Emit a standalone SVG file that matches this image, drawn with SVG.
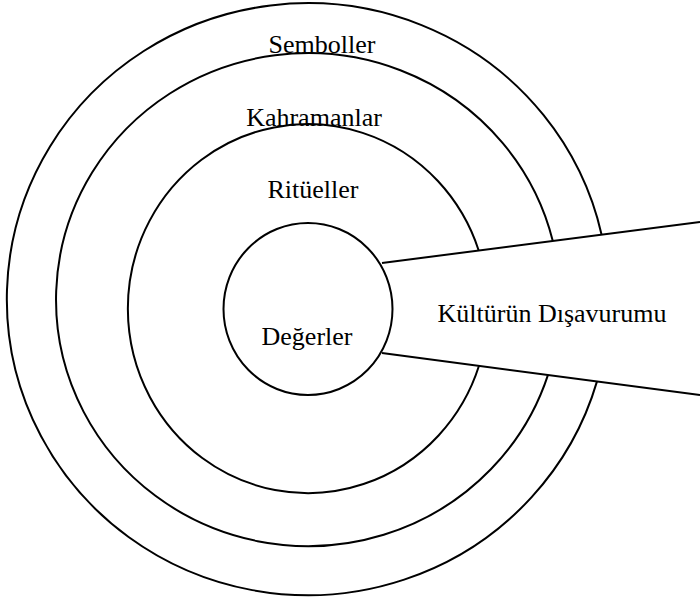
<svg xmlns="http://www.w3.org/2000/svg" width="700" height="601" viewBox="0 0 700 601">
  <style>
    .ring { fill: none; stroke: #000; stroke-width: 2; }
    .lbl { font-family: "Liberation Serif", "Times New Roman", serif; font-size: 26px; fill: #000; text-anchor: middle; }
  </style>
  <rect width="700" height="601" fill="#fff"/>
  <g id="semboller">
    <path class="ring" d="M 601.6 234.7 A 301 296 0 1 0 597 381.4"/>
    <text class="lbl" x="322" y="53">Semboller</text>
  </g>
  <g id="kahramanlar">
    <path class="ring" d="M 552.8 241 A 252 246.5 0 1 0 548 374.9"/>
    <text class="lbl" x="314" y="126">Kahramanlar</text>
  </g>
  <g id="ritueller">
    <path class="ring" d="M 478.7 250.5 A 180 184.5 0 1 0 479 365.8"/>
    <text class="lbl" x="313" y="198">Ritüeller</text>
  </g>
  <g id="degerler">
    <ellipse class="ring" cx="308" cy="309" rx="84.5" ry="86"/>
    <text class="lbl" x="307" y="345">Değerler</text>
  </g>
  <g id="kulturun-disavurumu">
    <text class="lbl" x="552" y="322">Kültürün Dışavurumu</text>
  </g>
  <g id="connectors">
    <line class="ring" x1="382" y1="263" x2="700" y2="222"/>
    <line class="ring" x1="382" y1="353" x2="700" y2="395"/>
  </g>
</svg>
